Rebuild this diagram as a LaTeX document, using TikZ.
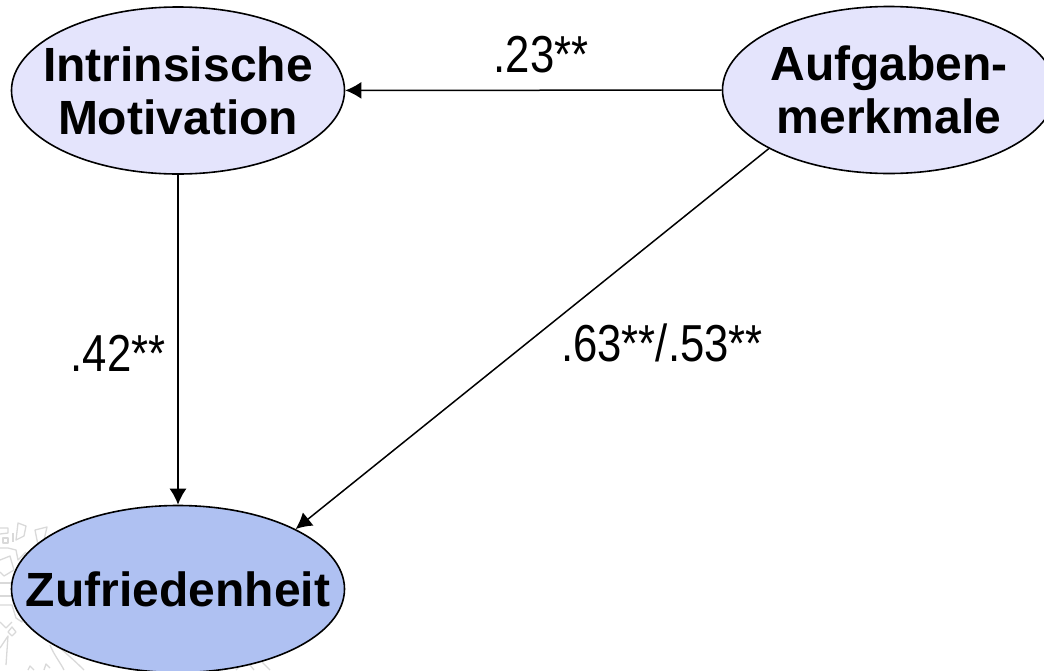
\documentclass[tikz,border=0pt]{standalone}
\usepackage{fontspec}
\setmainfont{Liberation Sans}
\newfontfamily\coeffont[FakeStretch=0.84]{Liberation Sans}
\usetikzlibrary{arrows.meta,shapes.geometric}
\definecolor{ovalpale}{RGB}{228,228,252}
\definecolor{ovalblue}{RGB}{175,193,242}
\newcommand{\ovaltext}[2]{\raisebox{#1}[0pt][0pt]{\makebox[0pt][c]{\begin{tabular}[b]{@{}c@{}}#2\end{tabular}}}}
\tikzset{
 x=1pt,y=-1pt,
 oval/.style={draw=black,line width=1.6pt,shape=ellipse,minimum width=333pt,minimum height=167pt,inner sep=0pt,font=\fontsize{48}{53}\selectfont\bfseries},
 latent/.style={oval,fill=ovalpale},
 outcome/.style={oval,fill=ovalblue},
 link/.style={draw=black,line width=1.5pt,-{Latex[length=16pt,width=17pt]}},
 coef/.style={font=\coeffont\fontsize{52}{52}\selectfont,inner sep=0pt,anchor=base},
 wmark/.style={draw=black!15,line width=1.3pt,fill=none,line join=round}
}
\begin{document}
\begin{tikzpicture}
\useasboundingbox (0,0) rectangle (1044,670);
\clip (0,0) rectangle (1044,670);
\draw[wmark] (0,528) -- (8,528) -- (8,533) -- (0,534);
\draw[wmark] (3,538) -- (8,538) -- (8,543) -- (3,543) -- cycle;
\draw[wmark] (13,533) -- (13,542);
\draw[wmark] (16,540) -- (24,536) -- (26,526) -- (18,523) -- cycle;
\draw[wmark] (35,530) -- (47,527) -- (44,540) -- (38,545) -- cycle;
\draw[wmark] (0,548) -- (8,548) -- (16,550) -- (18,560) -- (26,552);
\draw[wmark] (0,560) -- (10,556) -- (14,570) -- (4,576) -- (0,572);
\draw[wmark] (0,583) -- (14,583) -- (14,596) -- (0,596);
\draw[wmark] (0,605) -- (12,605) -- (16,618) -- (22,622) -- (24,612);
\draw[wmark] (0,622) -- (6,628) -- (12,622);
\draw[wmark] (8,632) -- (12,627) -- (16,632) -- (12,636) -- cycle;
\draw[wmark] (0,648) -- (8,636) -- (6,665);
\draw[wmark] (50,645) .. controls (54,655) and (60,662) .. (64,670);
\draw[wmark] (60,648) .. controls (68,655) and (76,662) .. (84,670);
\draw[wmark] (28,670) -- (30,666) -- (34,670);
\draw[wmark] (44,670) -- (46,664) -- (50,668);
\draw[wmark] (236,670) -- (246,660) -- (254,670);
\draw[wmark] (262,662) -- (270,670);
\node[latent] (im) at (178,90.5) {\ovaltext{-43.5pt}{Intrinsische\\Motivation}};
\node[latent] (am) at (889,90) {\ovaltext{-43.5pt}{Aufgaben-\\merkmale}};
\node[outcome] (zf) at (178,589) {\ovaltext{-17pt}{Zufriedenheit}};
\draw[link] (am) -- (im);
\draw[link] (im) -- (zf);
\draw[link] (am.206.7) -- (zf.27.5);
\node[coef] (c1) at (541,72) {.23**};
\node[coef] (c2) at (118,371) {.42**};
\node[coef] (c3) at (662,361) {.63**/.53**};
\end{tikzpicture}
\end{document}
